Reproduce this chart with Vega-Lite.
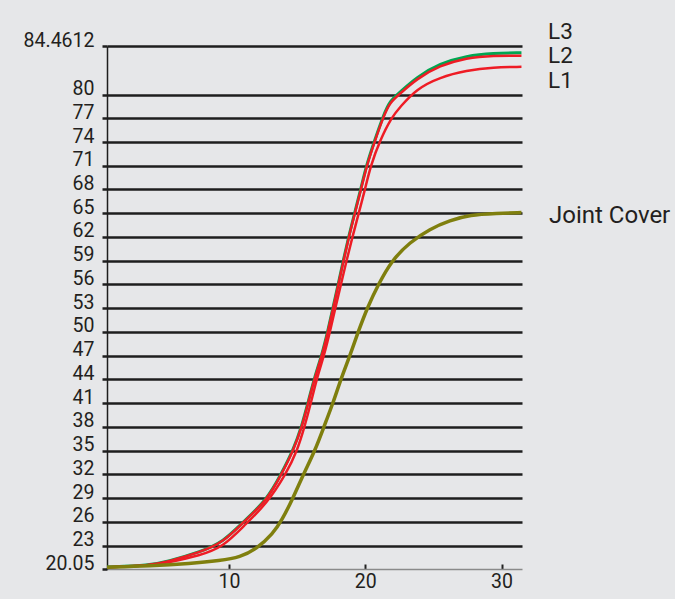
{
  "$schema": "https://vega.github.io/schema/vega-lite/v6.json",
  "width": 415,
  "height": 523,
  "autosize": {"type": "none"},
  "padding": {"left": 107, "top": 46, "right": 153, "bottom": 30},
  "background": "#e6e7e9",
  "config": {
    "view": {"stroke": null},
    "font": "Roboto",
    "axis": {"labelFont": "Roboto", "labelFontSize": 19.5, "labelColor": "#231f20", "labelOverlap": false, "labelFlush": false, "labelBound": false, "titleFontSize": 0},
    "axisX": {"grid": false, "domainColor": "#8a8a8a", "domainWidth": 1.5, "tickColor": "#222222", "tickWidth": 2, "tickSize": -5, "labelPadding": 8.5},
    "axisY": {"grid": true, "gridColor": "#1e1e1e", "gridWidth": 2.5, "domainColor": "#1e1e1e", "domainWidth": 1.5, "tickColor": "#1e1e1e", "tickWidth": 2.5, "tickSize": 5, "labelPadding": 8, "labelBaseline": "alphabetic"}
  },
  "data": {
    "values": [
      {"series": "L3", "x": 1.06, "y": 20.3}, {"series": "L3", "x": 4.2, "y": 20.52}, {"series": "L3", "x": 5.46, "y": 20.98}, {"series": "L3", "x": 7.9, "y": 22.2}, {"series": "L3", "x": 9.6, "y": 23.48}, {"series": "L3", "x": 11.05, "y": 26.0}, {"series": "L3", "x": 12.78, "y": 28.75}, {"series": "L3", "x": 13.88, "y": 32.2}, {"series": "L3", "x": 14.73, "y": 35.15}, {"series": "L3", "x": 15.35, "y": 38.1}, {"series": "L3", "x": 15.83, "y": 41.25}, {"series": "L3", "x": 16.27, "y": 44.2}, {"series": "L3", "x": 16.83, "y": 47.15}, {"series": "L3", "x": 17.27, "y": 50.2}, {"series": "L3", "x": 17.66, "y": 53.27}, {"series": "L3", "x": 18.03, "y": 56.13}, {"series": "L3", "x": 18.41, "y": 59.17}, {"series": "L3", "x": 18.81, "y": 62.2}, {"series": "L3", "x": 19.25, "y": 65.23}, {"series": "L3", "x": 19.69, "y": 68.15}, {"series": "L3", "x": 20.11, "y": 71.2}, {"series": "L3", "x": 20.72, "y": 74.35}, {"series": "L3", "x": 21.32, "y": 77.3}, {"series": "L3", "x": 21.82, "y": 79.24}, {"series": "L3", "x": 22.55, "y": 80.29}, {"series": "L3", "x": 23.77, "y": 82.19}, {"series": "L3", "x": 25.47, "y": 83.92}, {"series": "L3", "x": 27.43, "y": 84.89}, {"series": "L3", "x": 29.38, "y": 85.22}, {"series": "L3", "x": 31.46, "y": 85.27},
      {"series": "L2", "x": 1.06, "y": 20.28}, {"series": "L2", "x": 4.2, "y": 20.49}, {"series": "L2", "x": 5.46, "y": 20.95}, {"series": "L2", "x": 7.9, "y": 22.17}, {"series": "L2", "x": 9.6, "y": 23.44}, {"series": "L2", "x": 11.05, "y": 25.96}, {"series": "L2", "x": 12.78, "y": 28.7}, {"series": "L2", "x": 13.88, "y": 32.08}, {"series": "L2", "x": 14.73, "y": 35.02}, {"series": "L2", "x": 15.35, "y": 37.97}, {"series": "L2", "x": 15.83, "y": 41.12}, {"series": "L2", "x": 16.27, "y": 44.08}, {"series": "L2", "x": 16.83, "y": 47.02}, {"series": "L2", "x": 17.27, "y": 50.06}, {"series": "L2", "x": 17.66, "y": 53.13}, {"series": "L2", "x": 18.03, "y": 55.99}, {"series": "L2", "x": 18.41, "y": 59.03}, {"series": "L2", "x": 18.81, "y": 62.06}, {"series": "L2", "x": 19.25, "y": 65.09}, {"series": "L2", "x": 19.69, "y": 68.0}, {"series": "L2", "x": 20.11, "y": 71.03}, {"series": "L2", "x": 20.72, "y": 74.19}, {"series": "L2", "x": 21.32, "y": 77.13}, {"series": "L2", "x": 21.82, "y": 79.03}, {"series": "L2", "x": 22.55, "y": 80.09}, {"series": "L2", "x": 23.77, "y": 81.98}, {"series": "L2", "x": 25.47, "y": 83.66}, {"series": "L2", "x": 27.43, "y": 84.64}, {"series": "L2", "x": 29.38, "y": 84.93}, {"series": "L2", "x": 31.46, "y": 84.9},
      {"series": "L1", "x": 1.06, "y": 20.28}, {"series": "L1", "x": 4.2, "y": 20.45}, {"series": "L1", "x": 5.46, "y": 20.85}, {"series": "L1", "x": 7.9, "y": 21.76}, {"series": "L1", "x": 9.6, "y": 22.89}, {"series": "L1", "x": 11.05, "y": 25.42}, {"series": "L1", "x": 12.78, "y": 28.29}, {"series": "L1", "x": 14.2, "y": 32.08}, {"series": "L1", "x": 15.02, "y": 35.02}, {"series": "L1", "x": 15.54, "y": 37.97}, {"series": "L1", "x": 16.03, "y": 41.12}, {"series": "L1", "x": 16.44, "y": 44.08}, {"series": "L1", "x": 16.98, "y": 47.02}, {"series": "L1", "x": 17.42, "y": 50.06}, {"series": "L1", "x": 17.82, "y": 53.13}, {"series": "L1", "x": 18.22, "y": 55.99}, {"series": "L1", "x": 18.63, "y": 59.03}, {"series": "L1", "x": 19.07, "y": 62.06}, {"series": "L1", "x": 19.54, "y": 65.09}, {"series": "L1", "x": 19.98, "y": 68.0}, {"series": "L1", "x": 20.4, "y": 71.03}, {"series": "L1", "x": 21.08, "y": 74.19}, {"series": "L1", "x": 21.94, "y": 77.13}, {"series": "L1", "x": 22.55, "y": 78.4}, {"series": "L1", "x": 23.77, "y": 80.72}, {"series": "L1", "x": 25.47, "y": 82.18}, {"series": "L1", "x": 27.43, "y": 83.03}, {"series": "L1", "x": 29.38, "y": 83.45}, {"series": "L1", "x": 31.46, "y": 83.5},
      {"series": "Joint Cover", "x": 1.06, "y": 20.28}, {"series": "Joint Cover", "x": 4.23, "y": 20.43}, {"series": "Joint Cover", "x": 7.16, "y": 20.74}, {"series": "Joint Cover", "x": 9.36, "y": 21.12}, {"series": "Joint Cover", "x": 10.83, "y": 21.54}, {"series": "Joint Cover", "x": 12.05, "y": 22.6}, {"series": "Joint Cover", "x": 13.24, "y": 24.54}, {"series": "Joint Cover", "x": 13.88, "y": 26.18}, {"series": "Joint Cover", "x": 14.69, "y": 28.96}, {"series": "Joint Cover", "x": 15.46, "y": 31.99}, {"series": "Joint Cover", "x": 16.32, "y": 35.02}, {"series": "Joint Cover", "x": 16.98, "y": 38.05}, {"series": "Joint Cover", "x": 17.66, "y": 41.12}, {"series": "Joint Cover", "x": 18.2, "y": 43.99}, {"series": "Joint Cover", "x": 18.88, "y": 47.02}, {"series": "Joint Cover", "x": 19.49, "y": 50.06}, {"series": "Joint Cover", "x": 20.17, "y": 53.13}, {"series": "Joint Cover", "x": 20.96, "y": 55.99}, {"series": "Joint Cover", "x": 21.94, "y": 59.03}, {"series": "Joint Cover", "x": 23.28, "y": 61.34}, {"series": "Joint Cover", "x": 24.75, "y": 63.03}, {"series": "Joint Cover", "x": 26.21, "y": 64.08}, {"series": "Joint Cover", "x": 27.68, "y": 64.8}, {"series": "Joint Cover", "x": 29.63, "y": 64.97}, {"series": "Joint Cover", "x": 31.46, "y": 65.09}
    ]
  },
  "encoding": {
    "x": {"field": "x", "type": "quantitative", "scale": {"domain": [1.06, 31.5], "nice": false, "zero": false},
      "axis": {"values": [10, 20, 30], "title": null, "format": "d"}},
    "y": {"field": "y", "type": "quantitative", "scale": {"domain": [20.05, 86.13], "nice": false, "zero": false},
      "axis": {"values": [20.05, 23, 26, 29, 32, 35, 38, 41, 44, 47, 50, 53, 56, 59, 62, 65, 68, 71, 74, 77, 80, 86.13], "title": null,
        "gridColor": {"condition": {"test": "datum.value < 21", "value": "transparent"}, "value": "#1e1e1e"},
        "labelExpr": "datum.value > 86 ? '84.4612' : (datum.value < 21 ? '20.05' : format(datum.value, 'd'))"}}
  },
  "layer": [
    {
      "transform": [{"filter": "datum.series === 'L3'"}],
      "mark": {"type": "line", "color": "#00a651", "strokeWidth": 3, "interpolate": "basis"}
    },
    {
      "transform": [{"filter": "datum.series === 'L2'"}],
      "mark": {"type": "line", "color": "#ee1c25", "strokeWidth": 2.5, "interpolate": "basis"}
    },
    {
      "transform": [{"filter": "datum.series === 'L1'"}],
      "mark": {"type": "line", "color": "#ee1c25", "strokeWidth": 2.5, "interpolate": "basis"}
    },
    {
      "transform": [{"filter": "datum.series === 'Joint Cover'"}],
      "mark": {"type": "line", "color": "#7f7f0e", "strokeWidth": 3.5, "interpolate": "basis"}
    },
    {
      "data": {"values": [{}]},
      "mark": {"type": "rect", "color": "white"},
      "encoding": {"x": {"datum": 33.05, "type": "quantitative"}, "x2": {"datum": 50}, "y": {"datum": 0, "type": "quantitative"}, "y2": {"datum": 120}}
    },
    {
      "data": {"values": [{}]},
      "mark": {"type": "rect", "color": "white"},
      "encoding": {"x": {"datum": -20, "type": "quantitative"}, "x2": {"datum": 33.05}, "y": {"datum": 91.31, "type": "quantitative"}, "y2": {"datum": 120}}
    },
    {
      "data": {"values": [{}]},
      "mark": {"type": "rect", "color": "white"},
      "encoding": {"x": {"datum": -20, "type": "quantitative"}, "x2": {"datum": -6.5}, "y": {"datum": 0, "type": "quantitative"}, "y2": {"datum": 120}}
    },
    {
      "data": {"values": [{}]},
      "mark": {"type": "rect", "color": "white"},
      "encoding": {"x": {"datum": -20, "type": "quantitative"}, "x2": {"datum": 33.05}, "y": {"datum": 0, "type": "quantitative"}, "y2": {"datum": 16.39}}
    },
    {
      "transform": [{"filter": "datum.series === 'L3'"}, {"joinaggregate": [{"op": "max", "field": "x", "as": "mx"}]}, {"filter": "datum.x === datum.mx"}],
      "mark": {"type": "text", "align": "left", "baseline": "alphabetic", "dx": 26.6, "dy": -14, "fontSize": 22.5, "font": "Roboto", "color": "#231f20"},
      "encoding": {"text": {"field": "series"}}
    },
    {
      "transform": [{"filter": "datum.series === 'L2'"}, {"joinaggregate": [{"op": "max", "field": "x", "as": "mx"}]}, {"filter": "datum.x === datum.mx"}],
      "mark": {"type": "text", "align": "left", "baseline": "alphabetic", "dx": 26.6, "dy": 7, "fontSize": 22.5, "font": "Roboto", "color": "#231f20"},
      "encoding": {"text": {"field": "series"}}
    },
    {
      "transform": [{"filter": "datum.series === 'L1'"}, {"joinaggregate": [{"op": "max", "field": "x", "as": "mx"}]}, {"filter": "datum.x === datum.mx"}],
      "mark": {"type": "text", "align": "left", "baseline": "alphabetic", "dx": 26.6, "dy": 21, "fontSize": 22.5, "font": "Roboto", "color": "#231f20"},
      "encoding": {"text": {"field": "series"}}
    },
    {
      "transform": [{"filter": "datum.series === 'Joint Cover'"}, {"joinaggregate": [{"op": "max", "field": "x", "as": "mx"}]}, {"filter": "datum.x === datum.mx"}],
      "mark": {"type": "text", "align": "left", "baseline": "alphabetic", "dx": 27.5, "dy": 10.5, "fontSize": 24, "font": "Roboto", "color": "#231f20"},
      "encoding": {"text": {"field": "series"}}
    }
  ]
}
